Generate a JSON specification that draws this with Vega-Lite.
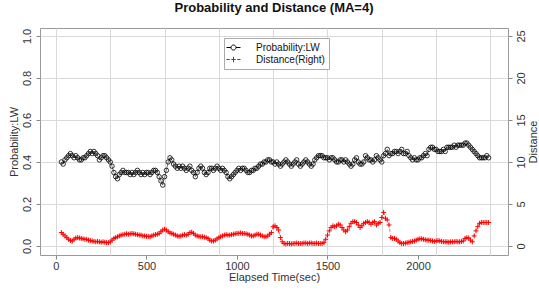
{
"$schema": "https://vega.github.io/schema/vega-lite/v6.json",
"width": 468, "height": 227,
"autosize": {"type": "none"},
"padding": {"left": 40, "top": 28, "right": 31, "bottom": 37},
"background": "white",
"config": {
  "view": {"stroke": "#999", "strokeWidth": 1},
  "font": "Liberation Sans",
  "axis": {"labelFont": "Liberation Sans", "titleFont": "Liberation Sans", "labelFontSize": 11, "titleFontSize": 11, "titleFontWeight": "normal", "labelColor": "#333", "titleColor": "#333", "tickColor": "#888", "gridColor": "#d9d9d9", "gridWidth": 1},
  "legend": {"orient": "none", "legendX": 184, "legendY": 10, "strokeColor": "#aaa", "fillColor": "white", "padding": 4, "labelFont": "Liberation Sans", "labelFontSize": 10, "labelColor": "#111", "symbolSize": 100, "symbolStrokeWidth": 1, "symbolOpacity": 1, "labelOffset": 17, "rowPadding": 1}
},
"title": {"text": "Probability and Distance (MA=4)", "fontSize": 13, "fontWeight": "bold", "font": "Liberation Sans", "color": "#111", "anchor": "middle", "baseline": "alphabetic", "offset": 3},
"datasets": {"series": [
{"t":30,"p":0.40,"d":1.6},{"t":40,"p":0.39,"d":1.4},{"t":50,"p":0.41,"d":1.2},{"t":60,"p":0.42,"d":1.0},{"t":70,"p":0.43,"d":0.8},{"t":80,"p":0.44,"d":0.65},{"t":90,"p":0.43,"d":0.6},{"t":100,"p":0.42,"d":0.8},{"t":110,"p":0.43,"d":0.95},{"t":120,"p":0.42,"d":1.0},
{"t":130,"p":0.41,"d":0.95},{"t":140,"p":0.41,"d":0.9},{"t":150,"p":0.42,"d":0.85},{"t":160,"p":0.42,"d":0.8},{"t":170,"p":0.43,"d":0.8},{"t":180,"p":0.44,"d":0.7},{"t":190,"p":0.45,"d":0.65},{"t":200,"p":0.44,"d":0.6},{"t":210,"p":0.45,"d":0.55},{"t":220,"p":0.44,"d":0.5},
{"t":230,"p":0.43,"d":0.55},{"t":240,"p":0.41,"d":0.5},{"t":250,"p":0.42,"d":0.45},{"t":260,"p":0.43,"d":0.5},{"t":270,"p":0.43,"d":0.45},{"t":280,"p":0.42,"d":0.4},{"t":290,"p":0.41,"d":0.4},{"t":300,"p":0.40,"d":0.5},{"t":310,"p":0.38,"d":0.7},{"t":320,"p":0.35,"d":0.9},
{"t":330,"p":0.33,"d":1.0},{"t":340,"p":0.32,"d":1.1},{"t":350,"p":0.34,"d":1.2},{"t":360,"p":0.35,"d":1.3},{"t":370,"p":0.36,"d":1.35},{"t":380,"p":0.35,"d":1.4},{"t":390,"p":0.35,"d":1.45},{"t":400,"p":0.35,"d":1.4},{"t":410,"p":0.34,"d":1.45},{"t":420,"p":0.35,"d":1.5},
{"t":430,"p":0.34,"d":1.45},{"t":440,"p":0.35,"d":1.4},{"t":450,"p":0.36,"d":1.35},{"t":460,"p":0.35,"d":1.3},{"t":470,"p":0.34,"d":1.3},{"t":480,"p":0.35,"d":1.2},{"t":490,"p":0.34,"d":1.2},{"t":500,"p":0.35,"d":1.15},{"t":510,"p":0.35,"d":1.15},{"t":520,"p":0.34,"d":1.1},
{"t":530,"p":0.35,"d":1.2},{"t":540,"p":0.36,"d":1.3},{"t":550,"p":0.36,"d":1.35},{"t":560,"p":0.35,"d":1.4},{"t":570,"p":0.33,"d":1.5},{"t":580,"p":0.31,"d":1.7},{"t":590,"p":0.29,"d":1.9},{"t":600,"p":0.33,"d":2.0},{"t":610,"p":0.36,"d":1.9},{"t":620,"p":0.40,"d":1.7},
{"t":630,"p":0.42,"d":1.55},{"t":640,"p":0.41,"d":1.5},{"t":650,"p":0.39,"d":1.4},{"t":660,"p":0.38,"d":1.3},{"t":670,"p":0.37,"d":1.2},{"t":680,"p":0.38,"d":1.15},{"t":690,"p":0.37,"d":1.2},{"t":700,"p":0.38,"d":1.3},{"t":710,"p":0.37,"d":1.35},{"t":720,"p":0.36,"d":1.3},
{"t":730,"p":0.37,"d":1.4},{"t":740,"p":0.38,"d":1.6},{"t":750,"p":0.36,"d":1.65},{"t":760,"p":0.35,"d":1.5},{"t":770,"p":0.33,"d":1.3},{"t":780,"p":0.35,"d":1.2},{"t":790,"p":0.37,"d":1.15},{"t":800,"p":0.38,"d":1.1},{"t":810,"p":0.37,"d":1.1},{"t":820,"p":0.35,"d":1.05},
{"t":830,"p":0.34,"d":1.0},{"t":840,"p":0.35,"d":0.9},{"t":850,"p":0.37,"d":0.7},{"t":860,"p":0.37,"d":0.6},{"t":870,"p":0.36,"d":0.6},{"t":880,"p":0.37,"d":0.7},{"t":890,"p":0.38,"d":0.85},{"t":900,"p":0.37,"d":1.0},{"t":910,"p":0.36,"d":1.1},{"t":920,"p":0.37,"d":1.2},
{"t":930,"p":0.36,"d":1.3},{"t":940,"p":0.35,"d":1.35},{"t":950,"p":0.33,"d":1.3},{"t":960,"p":0.32,"d":1.3},{"t":970,"p":0.33,"d":1.35},{"t":980,"p":0.34,"d":1.4},{"t":990,"p":0.35,"d":1.45},{"t":1000,"p":0.36,"d":1.5},{"t":1010,"p":0.37,"d":1.5},{"t":1020,"p":0.36,"d":1.55},
{"t":1030,"p":0.37,"d":1.5},{"t":1040,"p":0.37,"d":1.5},{"t":1050,"p":0.36,"d":1.45},{"t":1060,"p":0.35,"d":1.4},{"t":1070,"p":0.35,"d":1.3},{"t":1080,"p":0.36,"d":1.2},{"t":1090,"p":0.36,"d":1.2},{"t":1100,"p":0.37,"d":1.3},{"t":1110,"p":0.37,"d":1.4},{"t":1120,"p":0.38,"d":1.4},
{"t":1130,"p":0.39,"d":1.3},{"t":1140,"p":0.39,"d":1.2},{"t":1150,"p":0.40,"d":1.1},{"t":1160,"p":0.40,"d":1.1},{"t":1170,"p":0.41,"d":1.2},{"t":1180,"p":0.41,"d":1.4},{"t":1190,"p":0.40,"d":1.6},{"t":1200,"p":0.40,"d":2.3},{"t":1210,"p":0.39,"d":2.4},{"t":1220,"p":0.40,"d":2.2},
{"t":1230,"p":0.39,"d":1.9},{"t":1240,"p":0.38,"d":1.0},{"t":1250,"p":0.39,"d":0.5},{"t":1260,"p":0.40,"d":0.3},{"t":1270,"p":0.41,"d":0.25},{"t":1280,"p":0.40,"d":0.3},{"t":1290,"p":0.39,"d":0.3},{"t":1300,"p":0.38,"d":0.25},{"t":1310,"p":0.39,"d":0.3},{"t":1320,"p":0.40,"d":0.3},
{"t":1330,"p":0.41,"d":0.35},{"t":1340,"p":0.39,"d":0.3},{"t":1350,"p":0.38,"d":0.3},{"t":1360,"p":0.39,"d":0.3},{"t":1370,"p":0.40,"d":0.35},{"t":1380,"p":0.41,"d":0.35},{"t":1390,"p":0.40,"d":0.3},{"t":1400,"p":0.39,"d":0.35},{"t":1410,"p":0.38,"d":0.35},{"t":1420,"p":0.39,"d":0.3},
{"t":1430,"p":0.41,"d":0.3},{"t":1440,"p":0.42,"d":0.35},{"t":1450,"p":0.43,"d":0.3},{"t":1460,"p":0.43,"d":0.3},{"t":1470,"p":0.43,"d":0.3},{"t":1480,"p":0.42,"d":0.4},{"t":1490,"p":0.42,"d":0.8},{"t":1500,"p":0.42,"d":1.3},{"t":1510,"p":0.41,"d":1.8},{"t":1520,"p":0.42,"d":2.2},
{"t":1530,"p":0.42,"d":2.4},{"t":1540,"p":0.41,"d":2.3},{"t":1550,"p":0.40,"d":2.4},{"t":1560,"p":0.40,"d":2.6},{"t":1570,"p":0.41,"d":2.5},{"t":1580,"p":0.41,"d":2.2},{"t":1590,"p":0.40,"d":1.9},{"t":1600,"p":0.41,"d":1.7},{"t":1610,"p":0.40,"d":1.9},{"t":1620,"p":0.39,"d":2.3},
{"t":1630,"p":0.38,"d":2.7},{"t":1640,"p":0.39,"d":2.9},{"t":1650,"p":0.41,"d":2.9},{"t":1660,"p":0.42,"d":2.8},{"t":1670,"p":0.40,"d":2.5},{"t":1680,"p":0.39,"d":2.2},{"t":1690,"p":0.39,"d":2.4},{"t":1700,"p":0.40,"d":2.7},{"t":1710,"p":0.43,"d":2.8},{"t":1720,"p":0.42,"d":2.9},
{"t":1730,"p":0.41,"d":2.8},{"t":1740,"p":0.41,"d":2.6},{"t":1750,"p":0.40,"d":2.8},{"t":1760,"p":0.41,"d":2.9},{"t":1770,"p":0.43,"d":2.5},{"t":1780,"p":0.42,"d":2.7},{"t":1790,"p":0.41,"d":2.8},{"t":1800,"p":0.40,"d":3.4},{"t":1810,"p":0.43,"d":4.0},{"t":1820,"p":0.44,"d":3.3},
{"t":1830,"p":0.46,"d":3.1},{"t":1840,"p":0.43,"d":2.5},{"t":1850,"p":0.44,"d":1.0},{"t":1860,"p":0.44,"d":0.9},{"t":1870,"p":0.45,"d":0.9},{"t":1880,"p":0.45,"d":0.8},{"t":1890,"p":0.44,"d":0.6},{"t":1900,"p":0.45,"d":0.4},{"t":1910,"p":0.46,"d":0.3},{"t":1920,"p":0.44,"d":0.3},
{"t":1930,"p":0.44,"d":0.35},{"t":1940,"p":0.45,"d":0.4},{"t":1950,"p":0.43,"d":0.45},{"t":1960,"p":0.42,"d":0.5},{"t":1970,"p":0.41,"d":0.55},{"t":1980,"p":0.42,"d":0.6},{"t":1990,"p":0.41,"d":0.7},{"t":2000,"p":0.41,"d":0.8},{"t":2010,"p":0.42,"d":0.85},{"t":2020,"p":0.42,"d":0.85},
{"t":2030,"p":0.43,"d":0.8},{"t":2040,"p":0.44,"d":0.75},{"t":2050,"p":0.43,"d":0.7},{"t":2060,"p":0.46,"d":0.7},{"t":2070,"p":0.47,"d":0.65},{"t":2080,"p":0.47,"d":0.6},{"t":2090,"p":0.46,"d":0.55},{"t":2100,"p":0.46,"d":0.6},{"t":2110,"p":0.45,"d":0.65},{"t":2120,"p":0.45,"d":0.6},
{"t":2130,"p":0.45,"d":0.55},{"t":2140,"p":0.46,"d":0.5},{"t":2150,"p":0.45,"d":0.5},{"t":2160,"p":0.47,"d":0.5},{"t":2170,"p":0.47,"d":0.45},{"t":2180,"p":0.47,"d":0.5},{"t":2190,"p":0.47,"d":0.5},{"t":2200,"p":0.48,"d":0.5},{"t":2210,"p":0.47,"d":0.55},{"t":2220,"p":0.48,"d":0.5},
{"t":2230,"p":0.48,"d":0.5},{"t":2240,"p":0.48,"d":0.55},{"t":2250,"p":0.48,"d":0.6},{"t":2260,"p":0.49,"d":0.9},{"t":2270,"p":0.49,"d":1.0},{"t":2280,"p":0.48,"d":0.95},{"t":2290,"p":0.47,"d":0.7},{"t":2300,"p":0.46,"d":0.5},{"t":2310,"p":0.45,"d":1.2},{"t":2320,"p":0.44,"d":1.8},
{"t":2330,"p":0.43,"d":2.3},{"t":2340,"p":0.42,"d":2.7},{"t":2350,"p":0.42,"d":2.8},{"t":2360,"p":0.42,"d":2.8},{"t":2370,"p":0.42,"d":2.8},{"t":2380,"p":0.43,"d":2.8},{"t":2390,"p":0.42,"d":2.8}
]},
"layer": [
  {
    "data": {"name": "series"},
    "layer": [
      {"mark": {"type": "line", "color": "#000", "strokeWidth": 0.5},
       "encoding": {
         "x": {"field": "t", "type": "quantitative", "scale": {"domain": [-88, 2497], "nice": false, "zero": false},
               "axis": {"orient": "bottom", "values": [0, 500, 1000, 1500, 2000], "format": "d", "grid": false, "domain": false, "tickSize": 4, "labelPadding": 1, "title": "Elapsed Time(sec)", "titlePadding": 0}},
         "y": {"field": "p", "type": "quantitative", "scale": {"domain": [-0.043, 1.038], "nice": false, "zero": false},
               "axis": {"orient": "left", "values": [0, 0.2, 0.4, 0.6, 0.8, 1.0], "format": ".1f", "grid": true, "domain": false, "tickSize": 4, "labelAngle": 270, "labelAlign": "center", "labelBaseline": "bottom", "labelPadding": 4, "title": "Probability:LW", "titleAngle": 270, "titlePadding": 2}}
       }},
      {"mark": {"type": "point", "shape": "circle", "filled": false, "color": "#000", "size": 20, "strokeWidth": 0.8, "opacity": 1},
       "encoding": {
         "x": {"field": "t", "type": "quantitative", "scale": {"domain": [-88, 2497], "nice": false, "zero": false},
               "axis": {"orient": "bottom", "values": [0, 500, 1000, 1500, 2000], "format": "d", "grid": false, "domain": false, "tickSize": 4, "labelPadding": 1, "title": "Elapsed Time(sec)", "titlePadding": 0}},
         "y": {"field": "p", "type": "quantitative", "scale": {"domain": [-0.043, 1.038], "nice": false, "zero": false},
               "axis": {"orient": "left", "values": [0, 0.2, 0.4, 0.6, 0.8, 1.0], "format": ".1f", "grid": true, "domain": false, "tickSize": 4, "labelAngle": 270, "labelAlign": "center", "labelBaseline": "bottom", "labelPadding": 4, "title": "Probability:LW", "titleAngle": 270, "titlePadding": 2}}
       }}
    ]
  },
  {
    "data": {"name": "series"},
    "layer": [
      {"mark": {"type": "line", "color": "#ff0000", "strokeWidth": 0.6, "strokeDash": [3, 3]},
       "encoding": {
         "x": {"field": "t", "type": "quantitative", "scale": {"domain": [-88, 2497], "nice": false, "zero": false},
               "axis": {"orient": "top", "values": [0, 300, 600, 900, 1200, 1500, 1800, 2100, 2400], "grid": true, "domain": false, "ticks": false, "labels": false, "title": null}},
         "y": {"field": "d", "type": "quantitative", "scale": {"domain": [-1.07, 25.95], "nice": false, "zero": false},
               "axis": {"orient": "right", "values": [0, 5, 10, 15, 20, 25], "grid": false, "domain": false, "tickSize": 4, "labelAngle": 270, "labelAlign": "center", "labelBaseline": "top", "labelPadding": 3, "title": "Distance", "titleAngle": 270, "titlePadding": 12}}
       }},
      {"mark": {"type": "point", "shape": "M-1,0L1,0M0,-1L0,1", "filled": false, "color": "#ff0000", "size": 25, "strokeWidth": 1, "opacity": 1},
       "encoding": {
         "x": {"field": "t", "type": "quantitative", "scale": {"domain": [-88, 2497], "nice": false, "zero": false},
               "axis": {"orient": "top", "values": [0, 300, 600, 900, 1200, 1500, 1800, 2100, 2400], "grid": true, "domain": false, "ticks": false, "labels": false, "title": null}},
         "y": {"field": "d", "type": "quantitative", "scale": {"domain": [-1.07, 25.95], "nice": false, "zero": false},
               "axis": {"orient": "right", "values": [0, 5, 10, 15, 20, 25], "grid": false, "domain": false, "tickSize": 4, "labelAngle": 270, "labelAlign": "center", "labelBaseline": "top", "labelPadding": 3, "title": "Distance", "titleAngle": 270, "titlePadding": 12}}
       }}
    ]
  },
  {
    "data": {"values": [{"s": "Probability:LW"}, {"s": "Distance(Right)"}]},
    "mark": {"type": "point", "filled": false, "opacity": 0},
    "encoding": {
      "stroke": {"field": "s", "type": "nominal", "title": null,
        "scale": {"domain": ["Probability:LW", "Distance(Right)"], "range": ["#000000", "#ff0000"]}},
      "shape": {"field": "s", "type": "nominal", "title": null,
        "scale": {"domain": ["Probability:LW", "Distance(Right)"], "range": ["M-1.4,0L-0.5,0M0.5,0L1.4,0M-0.5,0A0.5,0.5,0,1,1,0.5,0A0.5,0.5,0,1,1,-0.5,0", "M-1.4,0L-0.75,0M-0.45,0L0.45,0M0,-0.55L0,0.55M0.75,0L1.4,0"]}}
    }
  }
],
"resolve": {"scale": {"y": "independent"}, "axis": {"x": "independent"}}
}
